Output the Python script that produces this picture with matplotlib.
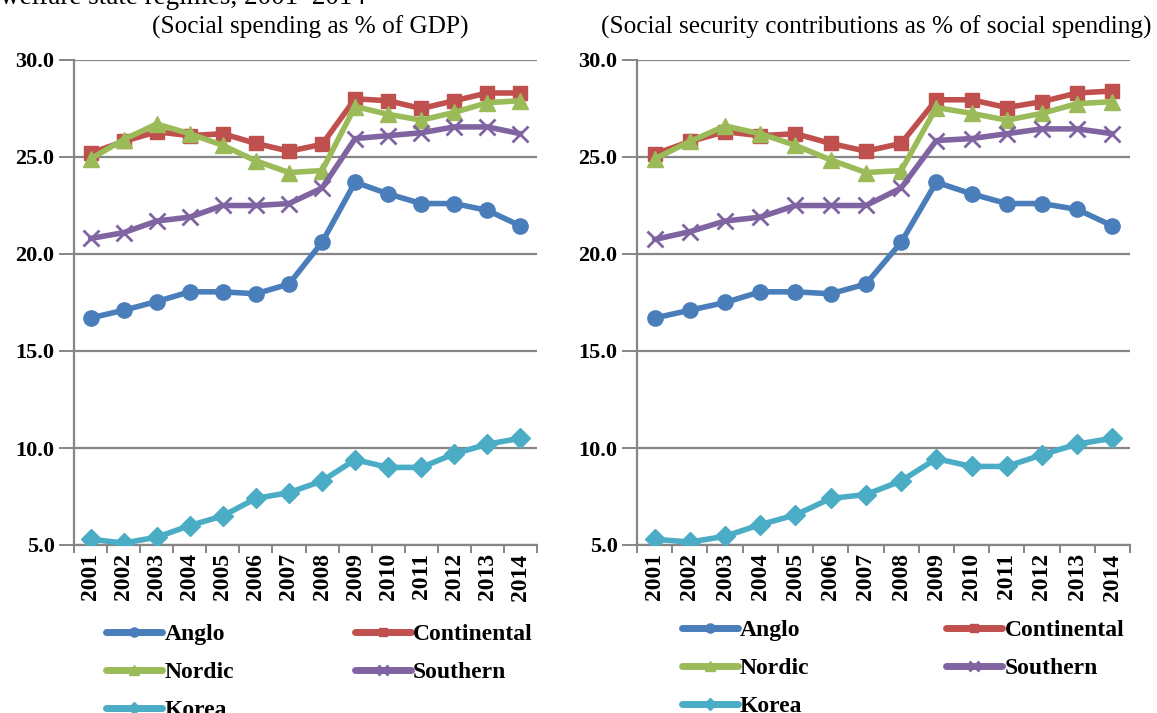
import matplotlib.pyplot as plt
from matplotlib.ticker import FixedLocator, NullFormatter

years = [str(y) for y in range(2001, 2015)]

# left panel: social spending as % of GDP
anglo_l = [16.7, 17.1, 17.55, 18.05, 18.05, 17.95, 18.45, 20.6, 23.7, 23.1, 22.6, 22.6, 22.25, 21.45]
cont_l = [25.2, 25.8, 26.3, 26.1, 26.2, 25.7, 25.3, 25.65, 28.0, 27.9, 27.5, 27.9, 28.3, 28.3]
nordic_l = [24.9, 25.9, 26.7, 26.2, 25.6, 24.8, 24.2, 24.3, 27.6, 27.2, 26.9, 27.3, 27.8, 27.9]
south_l = [20.8, 21.1, 21.7, 21.9, 22.5, 22.5, 22.6, 23.4, 25.95, 26.1, 26.25, 26.55, 26.55, 26.2]
korea_l = [5.3, 5.1, 5.4, 6.0, 6.5, 7.4, 7.7, 8.3, 9.4, 9.0, 9.0, 9.7, 10.2, 10.5]

# right panel: social security contributions as % of social spending
anglo_r = [16.7, 17.1, 17.5, 18.05, 18.05, 17.95, 18.45, 20.6, 23.7, 23.1, 22.6, 22.6, 22.3, 21.45]
cont_r = [25.15, 25.8, 26.3, 26.1, 26.2, 25.7, 25.3, 25.7, 27.95, 27.95, 27.55, 27.85, 28.3, 28.4]
nordic_r = [24.9, 25.8, 26.6, 26.2, 25.6, 24.85, 24.2, 24.3, 27.55, 27.25, 26.9, 27.25, 27.75, 27.85]
south_r = [20.75, 21.15, 21.7, 21.9, 22.5, 22.5, 22.5, 23.4, 25.85, 25.95, 26.2, 26.45, 26.45, 26.2]
korea_r = [5.3, 5.15, 5.45, 6.05, 6.55, 7.4, 7.6, 8.3, 9.45, 9.05, 9.05, 9.65, 10.2, 10.5]

names = ["Anglo", "Continental", "Nordic", "Southern", "Korea"]
colors = ["#4A7EBB", "#C0504D", "#9BBB59", "#8064A2", "#4BACC6"]
markers = ["o", "s", "^", "x", "D"]
msizes = [11, 10, 11, 12, 10]

serif = "Liberation Serif"
gray = "#868686"

fig = plt.figure(figsize=(11.57, 7.13), dpi=100)
ax1 = fig.add_axes([74 / 1157, 1 - 545 / 713, 463 / 1157, 485 / 713])
ax2 = fig.add_axes([637 / 1157, 1 - 545 / 713, 493 / 1157, 485 / 713])

panels = [
    (ax1, [anglo_l, cont_l, nordic_l, south_l, korea_l], "(Social spending as % of GDP)", 310,
     (0.0497, -0.142), 5.1),
    (ax2, [anglo_r, cont_r, nordic_r, south_r, korea_r],
     "(Social security contributions as % of social spending)", 876, (0.0713, -0.134), 5.8),
]

x = list(range(len(years)))
for ax, series, title, tx, anchor, colsp in panels:
    lines = []
    for vals, name, c, m, ms in zip(series, names, colors, markers, msizes):
        mew = 2.0 if m == "x" else 1.0
        ln, = ax.plot(x, vals, color=c, lw=4.0, marker=m, markersize=ms,
                      markeredgewidth=mew, markeredgecolor=c, label=name,
                      solid_capstyle="round", solid_joinstyle="round", zorder=3)
        lines.append(ln)
    ax.set_xlim(-0.5, 13.5)
    ax.set_ylim(5, 30)
    ax.set_yticks([5, 10, 15, 20, 25, 30])
    ax.set_yticklabels(["%.1f" % v for v in [5, 10, 15, 20, 25, 30]],
                       fontfamily=serif, fontweight="bold", fontsize=16)
    ax.yaxis.grid(True, color=gray, lw=1.6)
    ax.set_axisbelow(True)
    ax.set_xticks(x)
    ax.set_xticklabels(years, rotation=90, fontfamily=serif, fontweight="bold", fontsize=17)
    ax.tick_params(axis="x", which="major", length=0, pad=6)
    ax.xaxis.set_minor_locator(FixedLocator([i - 0.5 for i in range(15)]))
    ax.xaxis.set_minor_formatter(NullFormatter())
    ax.tick_params(axis="x", which="minor", length=6, width=1.4, color=gray, direction="out")
    ax.tick_params(axis="y", length=11, width=1.4, color=gray, direction="out", pad=3)
    for s in ["top", "right"]:
        ax.spines[s].set_visible(False)
    for s in ["left", "bottom"]:
        ax.spines[s].set_color(gray)
        ax.spines[s].set_linewidth(1.6)
    fig.text(tx / 1157, 1 - 27 / 713, title, ha="center", va="center",
             fontfamily=serif, fontsize=18.2)
    order = [0, 2, 4, 1, 3]
    leg = ax.legend([lines[i] for i in order], [names[i] for i in order], ncol=2,
                    loc="upper left", frameon=False, markerscale=0.6,
                    prop={"family": serif, "weight": "bold", "size": 17},
                    handlelength=2.37, handletextpad=0.1, labelspacing=0.7,
                    columnspacing=colsp, borderaxespad=0, bbox_to_anchor=anchor)
    for h in leg.legend_handles:
        h.set_linewidth(5)

fig.text(0.0, 1 - 4 / 713, "welfare state regimes, 2001–2014", ha="left", va="baseline",
         fontfamily=serif, fontsize=19.5)

plt.savefig("out.png", dpi=100)
